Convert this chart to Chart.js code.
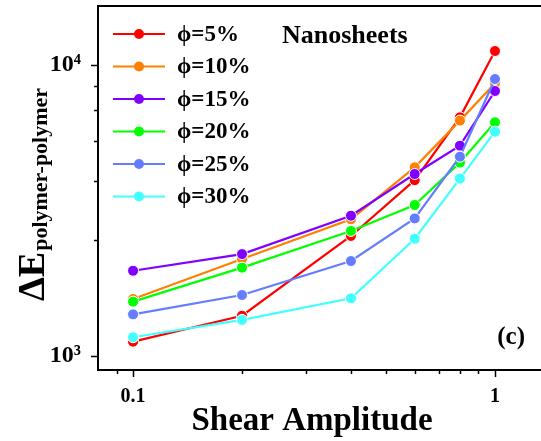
<!DOCTYPE html>
<html>
<head>
<meta charset="utf-8">
<script src="https://cdn.jsdelivr.net/npm/chart.js@4.4.1/dist/chart.umd.min.js"></script>
<style>
html, body { margin: 0; padding: 0; background: #fff; }
</style>
</head>
<body>
<canvas id="grafico" width="541" height="441"></canvas>
<script>
const amplitudes = [0.1, 0.2, 0.4, 0.6, 0.8, 1.0];
const seriesLabels = ['ϕ=5%', 'ϕ=10%', 'ϕ=15%', 'ϕ=20%', 'ϕ=25%', 'ϕ=30%'];
const seriesColors = ['#ff0000', '#ff8000', '#8000ff', '#00ff00', '#647dff', '#40ffff'];
const phi5 = [1120, 1375, 2585, 4020, 6610, 11170];
const phi10 = [1570, 2155, 2950, 4450, 6440, 8650];
const phi15 = [1963, 2240, 3034, 4220, 5280, 8140];
const phi20 = [1537, 2012, 2690, 3303, 4620, 6355];
const phi25 = [1390, 1620, 2120, 2970, 4840, 8950];
const phi30 = [1160, 1330, 1578, 2530, 4070, 5900];
const seriesValues = [phi5, phi10, phi15, phi20, phi25, phi30];

const xTickLabels = [0.1, 1];
const xMinorTicks = [0.09, 0.2, 0.3, 0.4, 0.5, 0.6, 0.7, 0.8, 0.9];
const yTickLabels = [1000, 10000];
const yMinorTicks = [2500, 4000, 5500, 7000, 8500];

const serif = "'Liberation Serif', 'Times New Roman', serif";
const sup = { '0': '⁰', '1': '¹', '2': '²', '3': '³', '4': '⁴', '5': '⁵' };

const datasets = seriesValues.map((vals, i) => ({
    label: seriesLabels[i],
    data: amplitudes.map((a, j) => ({ x: a, y: vals[j] })),
    borderColor: seriesColors[i],
    backgroundColor: seriesColors[i],
    pointBackgroundColor: seriesColors[i],
    pointBorderColor: '#ffffff',
    pointBorderWidth: 1,
    pointRadius: 5.5,
    borderWidth: 2.2,
    tension: 0,
    order: seriesValues.length - i
}));

// ticks, frame, legend and labels drawn on top of the plot
const extras = {
    id: 'extras',
    afterDraw(chart) {
        const c = chart.ctx;
        const area = chart.chartArea;
        const xs = chart.scales.x;
        const ys = chart.scales.y;
        c.save();
        c.strokeStyle = '#000';
        c.lineWidth = 2;
        c.beginPath();
        c.moveTo(area.left - 1, area.top);
        c.lineTo(area.right, area.top);
        c.stroke();

        c.lineWidth = 1.5;
        const tick = (v, len, axis) => {
            c.beginPath();
            if (axis === 'x') {
                const px = Math.round(xs.getPixelForValue(v)) + 0.5;
                c.moveTo(px, area.bottom);
                c.lineTo(px, area.bottom + len);
            } else {
                const py = Math.round(ys.getPixelForValue(v)) + 0.5;
                c.moveTo(area.left, py);
                c.lineTo(area.left - len, py);
            }
            c.stroke();
        };
        xTickLabels.forEach(v => tick(v, 7, 'x'));
        xMinorTicks.forEach(v => tick(v, 4, 'x'));
        yTickLabels.forEach(v => tick(v, 7, 'y'));
        yMinorTicks.forEach(v => tick(v, 4, 'y'));

        // legend
        c.textBaseline = 'middle';
        c.textAlign = 'left';
        c.font = 'bold 23px ' + serif;
        chart.data.datasets.forEach((ds, i) => {
            const y = 34 + i * 32.5;
            c.strokeStyle = ds.borderColor;
            c.lineWidth = 2.2;
            c.beginPath();
            c.moveTo(113, y);
            c.lineTo(165, y);
            c.stroke();
            c.fillStyle = ds.borderColor;
            c.beginPath();
            c.arc(139, y, 5, 0, Math.PI * 2);
            c.fill();
            c.fillStyle = '#000';
            c.fillText(ds.label, 177, y + 1);
        });

        c.fillStyle = '#000';
        c.textBaseline = 'alphabetic';
        c.font = 'bold 26px ' + serif;
        c.fillText('Nanosheets', 282, 43);
        c.textAlign = 'right';
        c.font = 'bold 25px ' + serif;
        c.fillText('(c)', 525, 344);

        c.textAlign = 'center';
        c.font = 'bold 33px ' + serif;
        c.fillText('Shear Amplitude', 312, 430);

        // y title with subscript
        c.translate(44, 301);
        c.rotate(-Math.PI / 2);
        c.textAlign = 'left';
        c.font = 'bold 38px ' + serif;
        c.fillText('ΔE', 0, 0);
        const w = c.measureText('ΔE').width;
        c.font = 'bold 22px ' + serif;
        c.fillText('polymer-polymer', w + 1, 3);
        c.restore();
    }
};

new Chart(document.getElementById('grafico'), {
    type: 'line',
    data: { datasets: datasets },
    options: {
        responsive: false,
        animation: false,
        layout: { autoPadding: false, padding: { top: 6, right: 0, left: 0, bottom: 0 } },
        plugins: {
            legend: { display: false },
            tooltip: { enabled: false }
        },
        scales: {
            x: {
                type: 'logarithmic',
                min: 0.08,
                max: 1.34,
                grid: { display: false },
                border: { display: true, color: '#000', width: 2 },
                afterBuildTicks: s => { s.ticks = xTickLabels.map(v => ({ value: v })); },
                afterFit: s => { s.height = 71; s.paddingLeft = 0; s.paddingRight = 0; },
                ticks: {
                    autoSkip: false,
                    maxRotation: 0,
                    padding: 7,
                    color: '#000',
                    font: { family: serif, weight: 'bold', size: 20 },
                    callback: v => String(v)
                }
            },
            y: {
                type: 'logarithmic',
                min: 895,
                max: 15950,
                grid: { display: false },
                border: { display: true, color: '#000', width: 2 },
                afterBuildTicks: s => { s.ticks = yTickLabels.map(v => ({ value: v })); },
                afterFit: s => { s.width = 98; s.paddingTop = 0; s.paddingBottom = 0; },
                ticks: {
                    autoSkip: false,
                    padding: 9,
                    color: '#000',
                    font: { family: serif, weight: 'bold', size: 24 },
                    callback: v => '10' + String(Math.round(Math.log10(v))).split('').map(d => sup[d]).join('')
                }
            }
        }
    },
    plugins: [extras]
});
</script>
</body>
</html>
